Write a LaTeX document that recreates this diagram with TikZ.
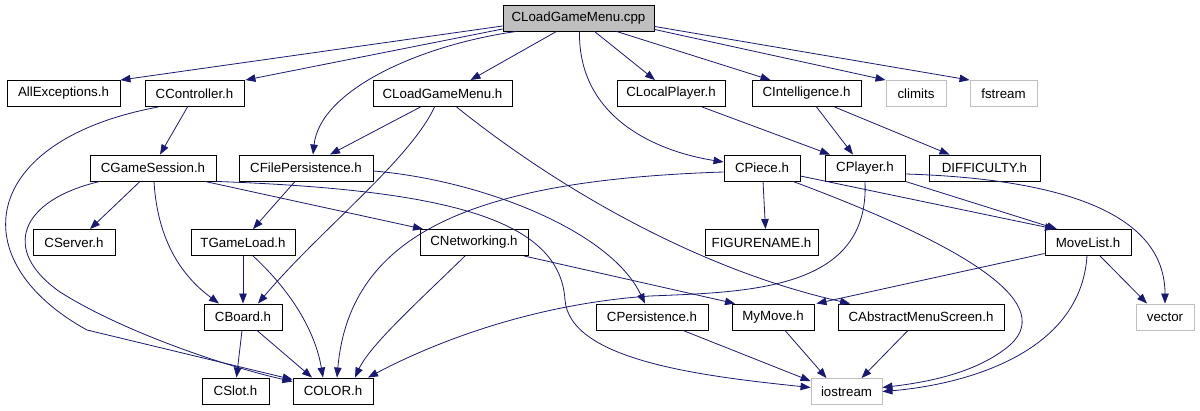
\documentclass[tikz,border=0pt]{standalone}
\usepackage{fontspec}
\setmainfont{Liberation Sans}
\usetikzlibrary{arrows.meta}
\definecolor{edgeblue}{HTML}{191970}
\definecolor{boxgray}{HTML}{BFBFBF}
\tikzset{
    file/.style={rectangle, draw=black, line width=0.9pt, fill=white, minimum height=26pt, inner sep=0pt, font=\fontsize{13.3}{15}\selectfont},
    mainfile/.style={file, fill=boxgray},
    sysfile/.style={file, draw=boxgray},
    dep/.style={draw=edgeblue, line width=0.8pt, -{Triangle[length=10pt,width=7.5pt]}, shorten >=0pt}
}

\begin{document}
\begin{tikzpicture}[x=1pt, y=-1pt]
    \useasboundingbox (0,0) rectangle (1200,411);

    % Top: source file and its direct includes
    \node[mainfile, minimum width=151pt] (cpp) at (578.5,18) {CLoadGameMenu.cpp};
    \node[file, minimum width=113pt] (allexc) at (63.5,93.5) {AllExceptions.h};
    \node[file, minimum width=99pt] (ccontroller) at (194.5,93.5) {CController.h};
    \node[file, minimum width=139pt] (cloadh) at (442.5,93.5) {CLoadGameMenu.h};
    \node[file, minimum width=108pt] (clocal) at (671,93.5) {CLocalPlayer.h};
    \node[file, minimum width=109pt] (cintel) at (806.5,93.5) {CIntelligence.h};
    \node[sysfile, minimum width=60pt] (climits) at (916,93.5) {climits};
    \node[sysfile, minimum width=67pt] (fstream) at (1003.5,93.5) {fstream};

    % Second row
    \node[file, minimum width=126pt] (cgame) at (153,168) {CGameSession.h};
    \node[file, minimum width=134pt] (cfile) at (306,168) {CFilePersistence.h};
    \node[file, minimum width=76pt] (cpiece) at (762,168) {CPiece.h};
    \node[file, minimum width=80pt] (cplayer) at (865,168) {CPlayer.h};
    \node[file, minimum width=111pt] (difficulty) at (984.5,168) {DIFFICULTY.h};

    % Third row
    \node[file, minimum width=82pt] (cserver) at (74,242.5) {CServer.h};
    \node[file, minimum width=104pt] (tgame) at (243,242.5) {TGameLoad.h};
    \node[file, minimum width=108pt] (cnet) at (474,242.5) {CNetworking.h};
    \node[file, minimum width=113pt] (figure) at (761.5,242.5) {FIGURENAME.h};
    \node[file, minimum width=86pt] (movelist) at (1088,242.5) {MoveList.h};

    % Fourth row
    \node[file, minimum width=78pt] (cboard) at (243,317) {CBoard.h};
    \node[file, minimum width=112pt] (cpers) at (652,317) {CPersistence.h};
    \node[file, minimum width=82pt] (mymove) at (773,317) {MyMove.h};
    \node[file, minimum width=166pt] (cabs) at (921,317) {CAbstractMenuScreen.h};
    \node[sysfile, minimum width=58pt] (vector) at (1165,317) {vector};

    % Bottom row
    \node[file, minimum width=67pt] (cslot) at (235.5,391) {CSlot.h};
    \node[file, minimum width=80pt] (color) at (333,391) {COLOR.h};
    \node[sysfile, minimum width=71pt] (iostream) at (846.5,391.5) {iostream};

    % Includes of CLoadGameMenu.cpp
    \draw[dep] ([yshift=-8pt]cpp.west) -- (allexc.north east);
    \draw[dep] ([yshift=-11pt]cpp.west) -- ([xshift=1pt]ccontroller.north east);
    \draw[dep] ([xshift=-62pt]cpp.south) .. controls (420,45) and (320,90) .. ([xshift=7pt]cfile.north);
    \draw[dep] ([xshift=-22pt]cpp.south) -- ([xshift=28pt]cloadh.north);
    \draw[dep] ([xshift=1pt]cpp.south) .. controls (578,120) and (660,152) .. ([yshift=6pt]cpiece.west);
    \draw[dep] ([xshift=16pt]cpp.south) -- ([xshift=-16pt]clocal.north);
    \draw[dep] ([xshift=38pt]cpp.south) -- ([xshift=-36pt]cintel.north);
    \draw[dep] ([yshift=2pt]cpp.south east) -- (climits.north west);
    \draw[dep] ([yshift=5pt]cpp.south east) -- (fstream.north west);

    % CController.h and CGameSession.h
    \draw[dep] ([xshift=-7pt]ccontroller.south) -- ([xshift=7pt]cgame.north);
    \draw[dep] ([xshift=-36pt]ccontroller.south) .. controls (-20,140) and (-40,260) .. (87,330) -- ([yshift=-2pt]color.north west);
    \draw[dep] ([xshift=-53pt]cgame.south) .. controls (20,200) and (0,250) .. (60,292) .. controls (120,330) and (220,365) .. ([yshift=-4pt]color.north west);
    \draw[dep] ([xshift=-13pt]cgame.south) -- ([xshift=16pt]cserver.north);
    \draw[dep] ([xshift=1pt]cgame.south) .. controls (158,250) and (190,282) .. ([xshift=-24pt]cboard.north);
    \draw[dep] ([xshift=52pt]cgame.south) -- ([xshift=-51pt]cnet.north);
    \draw[dep] (cgame.south east) .. controls (450,190) and (560,220) .. (565,300) .. controls (570,360) and (700,376) .. ([yshift=4pt]iostream.west);

    % CLoadGameMenu.h and CFilePersistence.h
    \draw[dep] ([xshift=-22pt]cloadh.south) -- ([xshift=24pt]cfile.north);
    \draw[dep] ([xshift=-8pt]cloadh.south) .. controls (410,160) and (320,230) .. ([xshift=15pt]cboard.north);
    \draw[dep] ([xshift=14pt]cloadh.south) .. controls (560,190) and (700,270) .. ([xshift=-71pt]cabs.north);
    \draw[dep] ([xshift=-11pt]cfile.south) -- ([xshift=10pt]tgame.north);
    \draw[dep] ([yshift=-3pt]cfile.east) .. controls (480,180) and (610,230) .. ([xshift=-7pt]cpers.north);

    % CLocalPlayer.h and CIntelligence.h
    \draw[dep] ([xshift=31pt]clocal.south) -- ([xshift=-35pt]cplayer.north);
    \draw[dep] ([xshift=10pt]cintel.south) -- ([xshift=-12pt]cplayer.north);
    \draw[dep] ([xshift=28pt]cintel.south) -- ([xshift=-35pt]difficulty.north);

    % CPiece.h and CPlayer.h
    \draw[dep] ([xshift=1pt]cpiece.south) -- ([xshift=4pt]figure.north);
    \draw[dep] ([yshift=-4pt]cpiece.west) .. controls (480,180) and (350,230) .. ([xshift=4pt]color.north);
    \draw[dep] ([yshift=-8pt]cpiece.east) -- ([xshift=-33pt]movelist.north);
    \draw[dep] ([xshift=31pt]cpiece.south) .. controls (950,240) and (1060,300) .. (1010,345) .. controls (975,375) and (920,383) .. ([yshift=4pt]iostream.east);
    \draw[dep] (cplayer.south east) -- ([xshift=-31pt]movelist.north);
    \draw[dep] ([yshift=-6pt]cplayer.east) .. controls (1100,180) and (1165,230) .. (vector.north);
    \draw[dep] (cplayer.south) .. controls (870,290) and (750,292) .. (650,296) .. controls (520,305) and (420,350) .. ([xshift=35pt]color.north);

    % Third row includes
    \draw[dep] (tgame.south) -- (cboard.north);
    \draw[dep] ([xshift=10pt]tgame.south) .. controls (290,290) and (315,330) .. ([xshift=-10pt]color.north);
    \draw[dep] ([xshift=-9pt]cnet.south) .. controls (420,300) and (370,345) .. ([xshift=22pt]color.north);
    \draw[dep] ([xshift=50pt]cnet.south) -- ([xshift=-38pt]mymove.north);
    \draw[dep] ([yshift=-11pt]movelist.west) -- ([xshift=2pt]mymove.north east);
    \draw[dep] ([xshift=12pt]movelist.south) -- ([xshift=-18pt]vector.north);
    \draw[dep] ([xshift=-1pt]movelist.south) .. controls (1080,360) and (950,386) .. ([yshift=0pt]iostream.east);

    % Fourth row includes
    \draw[dep] ([xshift=-1pt]cboard.south) -- ([xshift=1pt]cslot.north);
    \draw[dep] ([xshift=14pt]cboard.south) -- ([xshift=-21pt]color.north);
    \draw[dep] ([xshift=31pt]cpers.south) -- ([yshift=-3pt]iostream.north west);
    \draw[dep] ([xshift=12pt]mymove.south) -- ([xshift=-20pt]iostream.north);
    \draw[dep] ([xshift=-13pt]cabs.south) -- ([xshift=15pt]iostream.north);
\end{tikzpicture}
\end{document}
